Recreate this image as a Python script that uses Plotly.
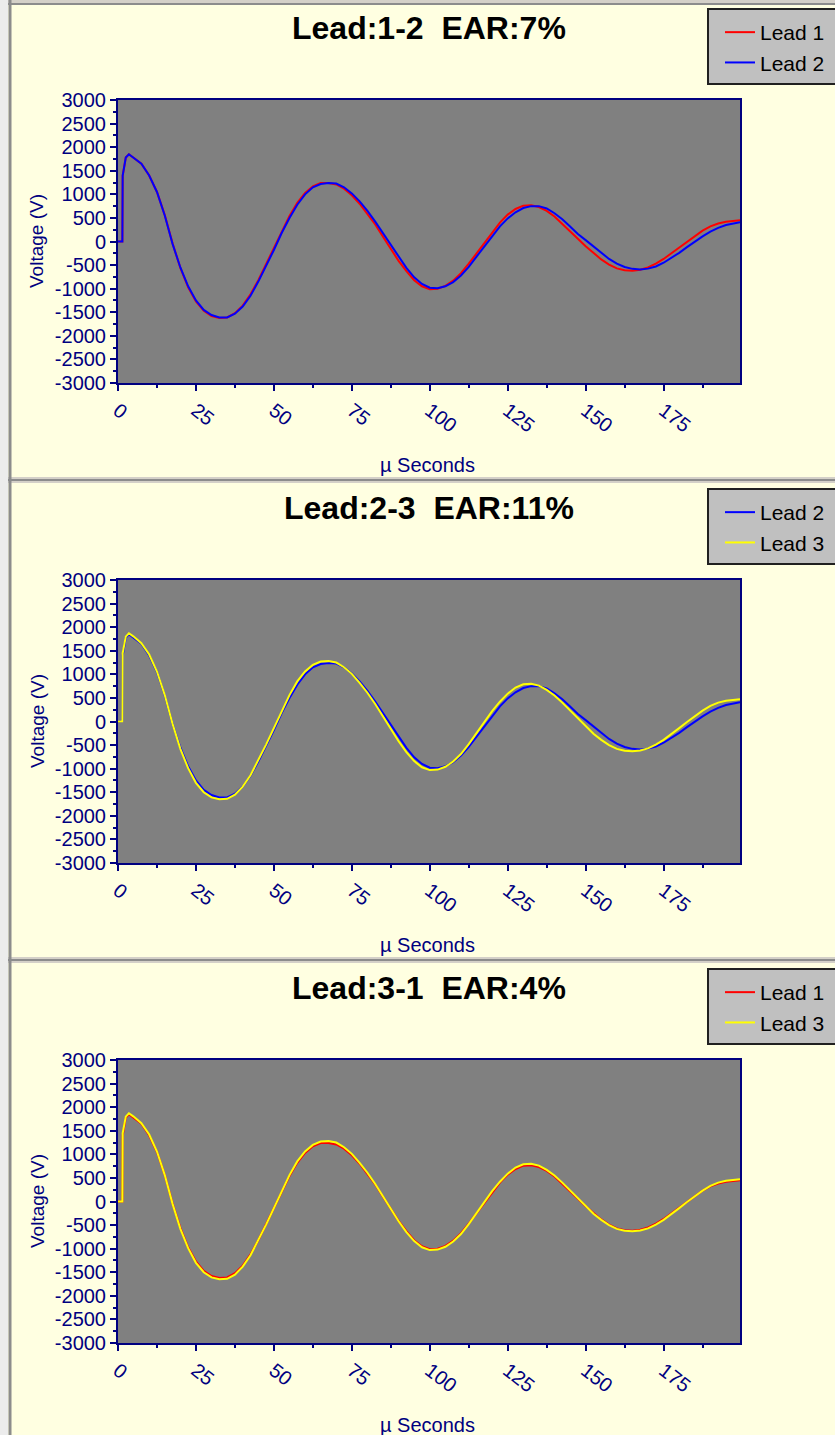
import plotly.graph_objects as go

W, H = 835, 1435

# time axis (micro seconds)
t_us = [0, 1.4, 1.5, 2.5, 3.5, 5, 7.5, 10, 12.5, 15, 17.5, 20, 22.5, 25, 27.5, 30, 32.5, 35,
        37.5, 40, 42.5, 45, 47.5, 50, 52.5, 55, 57.5, 60, 62.5, 65, 67.5, 70, 72.5, 75,
        77.5, 80, 82.5, 85, 87.5, 90, 92.5, 95, 97.5, 100, 102.5, 105, 107.5, 110, 112.5,
        115, 117.5, 120, 122.5, 125, 127.5, 130, 132.5, 135, 137.5, 140, 142.5, 145, 147.5,
        150, 152.5, 155, 157.5, 160, 162.5, 165, 167.5, 170, 172.5, 175, 177.5, 180, 182.5,
        185, 187.5, 190, 192.5, 195, 197.5, 199.5]

lead1 = [0, 0, 1400, 1780, 1850, 1780, 1650, 1400, 1050, 560, -40, -560, -970, -1270, -1470,
         -1580, -1620, -1610, -1520, -1360, -1120, -820, -480, -140, 220, 540, 820, 1030,
         1170, 1240, 1240, 1210, 1120, 980, 800, 590, 360, 100, -160, -410, -630, -820, -950,
         -1010, -1000, -940, -830, -670, -470, -250, -20, 200, 400, 570, 690, 760, 770, 730,
         650, 530, 380, 220, 60, -100, -250, -380, -490, -570, -610, -620, -600, -550, -470,
         -370, -250, -130, 0, 120, 230, 320, 380, 420, 440, 450]

lead2 = [0, 0, 1400, 1780, 1850, 1780, 1650, 1400, 1050, 550, -50, -550, -950, -1250, -1450,
         -1560, -1610, -1610, -1530, -1380, -1150, -850, -520, -180, 180, 500, 780, 1000,
         1150, 1220, 1240, 1230, 1150, 1020, 850, 650, 420, 170, -80, -330, -560, -760, -900,
         -980, -990, -950, -860, -720, -540, -320, -100, 120, 320, 490, 620, 710, 750, 750,
         700, 600, 470, 320, 160, 30, -110, -250, -370, -470, -540, -580, -595, -575, -530,
         -450, -350, -240, -120, 0, 110, 210, 290, 350, 390, 410]

lead3 = [0, 0, 1450, 1800, 1870, 1800, 1660, 1420, 1060, 560, -50, -580, -990, -1300, -1500,
         -1610, -1650, -1640, -1550, -1380, -1140, -830, -490, -140, 220, 560, 850, 1060,
         1200, 1270, 1280, 1250, 1150, 1010, 820, 610, 370, 110, -160, -420, -650, -840, -970,
         -1030, -1020, -960, -850, -690, -480, -250, -10, 220, 420, 590, 720, 790, 800, 760,
         670, 550, 400, 230, 60, -100, -260, -390, -500, -580, -620, -630, -615, -570, -490,
         -390, -270, -140, -10, 110, 230, 330, 400, 440, 460, 470]

y_ticks = [-3000, -2500, -2000, -1500, -1000, -500, 0, 500, 1000, 1500, 2000, 2500, 3000]
y_labels = ["-3000", "-2500", "-2000", "-1500", "-1000", "-500", "0",
            "500", "1000", "1500", "2000", "2500", "3000"]

leads = {"Lead 1": (lead1, "#ff0000"), "Lead 2": (lead2, "#0000ff"), "Lead 3": (lead3, "#ffff00")}

panels = [("Lead:1-2\u00a0\u00a0EAR:7%", ["Lead 1", "Lead 2"]),
          ("Lead:2-3\u00a0\u00a0EAR:11%", ["Lead 2", "Lead 3"]),
          ("Lead:3-1\u00a0\u00a0EAR:4%", ["Lead 1", "Lead 3"])]

NAVY = "#000080"
FONT = "Arial, Liberation Sans, sans-serif"
NARROW = "Liberation Sans Narrow, Arial Narrow, Arial, sans-serif"


def fx(p):
    return p / W


def fy(p):
    return 1 - p / H


fig = go.Figure()
shapes = []
annotations = []
layout = {}

for i, (title, names) in enumerate(panels):
    top = i * 480
    n = "" if i == 0 else str(i + 1)
    xa, ya = "x" + n, "y" + n
    lg = "legend" + n

    for name in names:
        vals, col = leads[name]
        fig.add_trace(go.Scatter(x=t_us, y=vals, name=name, mode="lines",
                                 line=dict(color=col, width=2),
                                 xaxis=xa, yaxis=ya, legend=lg))

    layout["xaxis" + n] = dict(
        domain=[fx(118), fx(740)], anchor=ya, range=[0, 199.5],
        tickmode="linear", tick0=0, dtick=25, tickangle=38,
        ticks="outside", ticklen=6, tickwidth=2, tickcolor=NAVY,
        minor=dict(dtick=12.5, ticks="outside", ticklen=3, tickwidth=2, tickcolor=NAVY),
        showline=True, linecolor=NAVY, linewidth=2, mirror=True,
        showgrid=False, zeroline=False, automargin=False,
        tickfont=dict(family=FONT, size=20, color=NAVY))
    layout["yaxis" + n] = dict(
        domain=[fy(top + 383), fy(top + 100)], anchor=xa, range=[-3000, 3000],
        tickmode="array", tickvals=y_ticks, ticktext=y_labels,
        ticks="outside", ticklen=6, tickwidth=2, tickcolor=NAVY,
        minor=dict(dtick=250, ticks="outside", ticklen=3, tickwidth=2, tickcolor=NAVY),
        showline=True, linecolor=NAVY, linewidth=2, mirror=True,
        showgrid=False, zeroline=False, automargin=False,
        tickfont=dict(family=FONT, size=20, color=NAVY))

    layout[lg] = dict(x=fx(720), y=fy(top + 12), xanchor="left", yanchor="top",
                      bgcolor="rgba(0,0,0,0)", borderwidth=0,
                      font=dict(family=NARROW, size=21, color="black"),
                      traceorder="normal", itemwidth=30)

    # legend box
    shapes.append(dict(type="rect", xref="paper", yref="paper",
                       x0=fx(708), x1=fx(860), y0=fy(top + 84), y1=fy(top + 9),
                       fillcolor="#c0c0c0", line=dict(color="#202020", width=2),
                       layer="below"))
    # panel separator band
    if i > 0:
        shapes.append(dict(type="rect", xref="paper", yref="paper",
                           x0=0, x1=1, y0=fy(top + 3), y1=fy(top - 3),
                           fillcolor="#d4d0c8", line=dict(width=0), layer="below"))
        shapes.append(dict(type="line", xref="paper", yref="paper",
                           x0=fx(8), x1=1, y0=fy(top), y1=fy(top),
                           line=dict(color="#8c8c8c", width=2), layer="below"))

    annotations.append(dict(text="<b>" + title + "</b>", x=fx(429), y=fy(top + 28),
                            xref="paper", yref="paper", showarrow=False,
                            xanchor="center", yanchor="middle",
                            font=dict(family=NARROW, size=32, color="black")))
    annotations.append(dict(text="Voltage (V)", x=fx(37), y=fy(top + 241),
                            xref="paper", yref="paper", showarrow=False, textangle=-90,
                            xanchor="center", yanchor="middle",
                            font=dict(family=FONT, size=19, color=NAVY)))
    annotations.append(dict(text="\u00b5 Seconds", x=fx(427), y=fy(top + 465),
                            xref="paper", yref="paper", showarrow=False,
                            xanchor="center", yanchor="middle",
                            font=dict(family=FONT, size=20, color=NAVY)))

# window frame: top band and left edge
shapes.append(dict(type="rect", xref="paper", yref="paper", x0=0, x1=1, y0=fy(4), y1=1,
                   fillcolor="#d4d0c8", line=dict(width=0), layer="below"))
shapes.append(dict(type="line", xref="paper", yref="paper", x0=fx(8), x1=1, y0=fy(4), y1=fy(4),
                   line=dict(color="#8c8c8c", width=2), layer="below"))
shapes.append(dict(type="rect", xref="paper", yref="paper", x0=0, x1=fx(8), y0=0, y1=1,
                   fillcolor="#ececec", line=dict(width=0), layer="below"))
shapes.append(dict(type="line", xref="paper", yref="paper", x0=fx(10), x1=fx(10), y0=0, y1=1,
                   line=dict(color="#8c8c8c", width=3), layer="below"))

fig.update_layout(
    width=W, height=H, margin=dict(l=0, r=0, t=0, b=0, autoexpand=False),
    paper_bgcolor="#ffffe1", plot_bgcolor="#808080",
    shapes=shapes, annotations=annotations, **layout)

# drop the default page margin so the figure sits at the window corner
fig.write_html("out.html", config={"displayModeBar": False},
               post_script="document.body.style.margin='0';")
